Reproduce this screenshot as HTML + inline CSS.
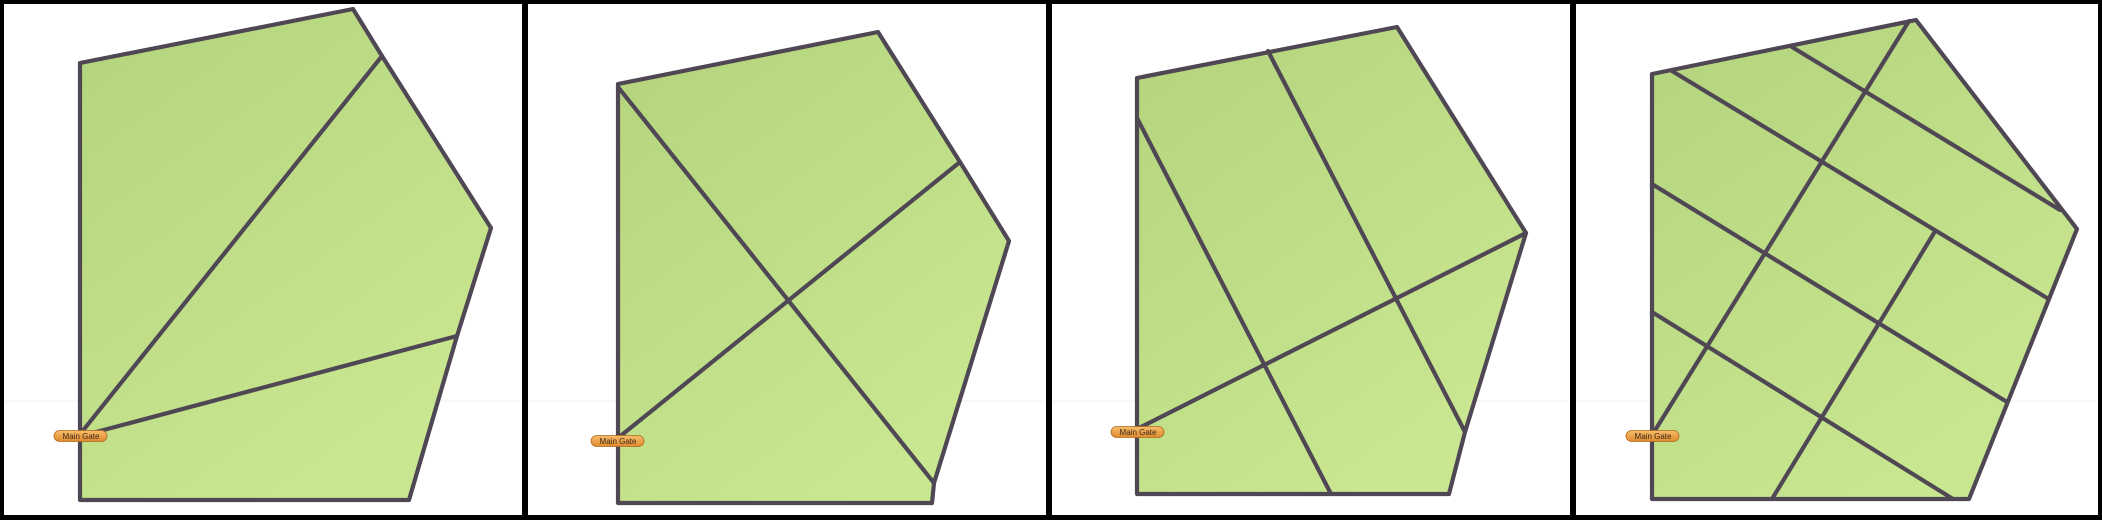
<!DOCTYPE html>
<html><head><meta charset="utf-8">
<style>
html,body{margin:0;padding:0;background:#000;}
#wrap{position:relative;width:2102px;height:520px;background:#000;}
svg{position:absolute;left:0;top:0;}
</style></head>
<body>
<div id="wrap">
<svg id="svg" width="2102" height="520" viewBox="0 0 2102 520">
<defs>
<linearGradient id="g" x1="0" y1="0" x2="0.6" y2="1">
<stop offset="0" stop-color="#b3d37c"/><stop offset="1" stop-color="#c9e791"/>
</linearGradient>
<linearGradient id="lg" x1="0" y1="0" x2="0" y2="1">
<stop offset="0" stop-color="#f7bd6a"/><stop offset="1" stop-color="#e08a2e"/>
</linearGradient>
</defs>
</svg>
</div>
<script>
const panelOffsets = [0, 524, 1048, 1572];
const outlines = [
 [[80,63],[353,9],[382,56],[491,228],[457,336],[409,500],[80,500]],
 [[94,84],[354,32],[436,162],[485,241],[410,483],[408,503],[94,503]],
 [[89,78],[349,27],[478,233],[417,432],[401,494],[89,494]],
 [[80,74],[344,20],[505,229],[397,499],[80,499]]
];
const dividers = [
 [[[81,433],[382,56]],[[81,436],[457,336]]],
 [[[94,87],[410,483]],[[94,438],[436,162]]],
 [[[89,118],[283,494]],[[220,51],[417,432]],[[89,429],[478,233]]],
 [[[100,71],[475,298]],[[220,47],[488,210]],[[80,184],[435,402]],[[80,312],[381,499]],[[82,432],[337,21]],[[200,499],[362,233]]]
];
const gates = [[81,433],[94,438],[90,429],[81,433]];
const gateLabel = "Main Gate";

const NS = "http://www.w3.org/2000/svg";
const svg = document.getElementById('svg');
function mk(tag, attrs, parent){const e=document.createElementNS(NS,tag);for(const k in attrs)e.setAttribute(k,attrs[k]);(parent||svg).appendChild(e);return e;}

panelOffsets.forEach((ox,i)=>{
  const g = mk('g',{transform:`translate(${ox},0)`});
  
  
  const bg = mk('rect',{x:4,y:4,width:(i==3?2102-ox-8:524-6),height:511,fill:'#fff'},g);
  
  
  const hl = mk('line',{x1:4,y1:401,x2:(i==3?2102-ox-4:520),y2:401,stroke:'#f0f0f0','stroke-width':1},g);
  
  
  const poly = mk('polygon',{points:outlines[i].map(p=>p.join(',')).join(' '),fill:'url(#g)',stroke:'none'},g);
  
  
  dividers[i].forEach((d,j)=>{
    const l = mk('line',{x1:d[0][0],y1:d[0][1],x2:d[1][0],y2:d[1][1],stroke:'#4f4753','stroke-width':4.2,'stroke-linecap':'round'},g);
    
    
  });
  const ol = mk('polygon',{points:outlines[i].map(p=>p.join(',')).join(' '),fill:'none',stroke:'#4f4753','stroke-width':4.2,'stroke-linejoin':'round'},g);
  
  
  const [gx,gy] = gates[i];
  const lab = mk('g',{},g);
  
  
  mk('rect',{x:gx-27,y:gy-2.5,width:53,height:11,rx:5.5,fill:'url(#lg)',stroke:'#b06a22','stroke-width':0.8},lab);
  const t = mk('text',{x:gx,y:gy+6,'text-anchor':'middle','font-family':'Liberation Sans, sans-serif','font-size':8,fill:'#3a2a1a'},lab);
  t.textContent = gateLabel;
});
</script>
</body></html>
